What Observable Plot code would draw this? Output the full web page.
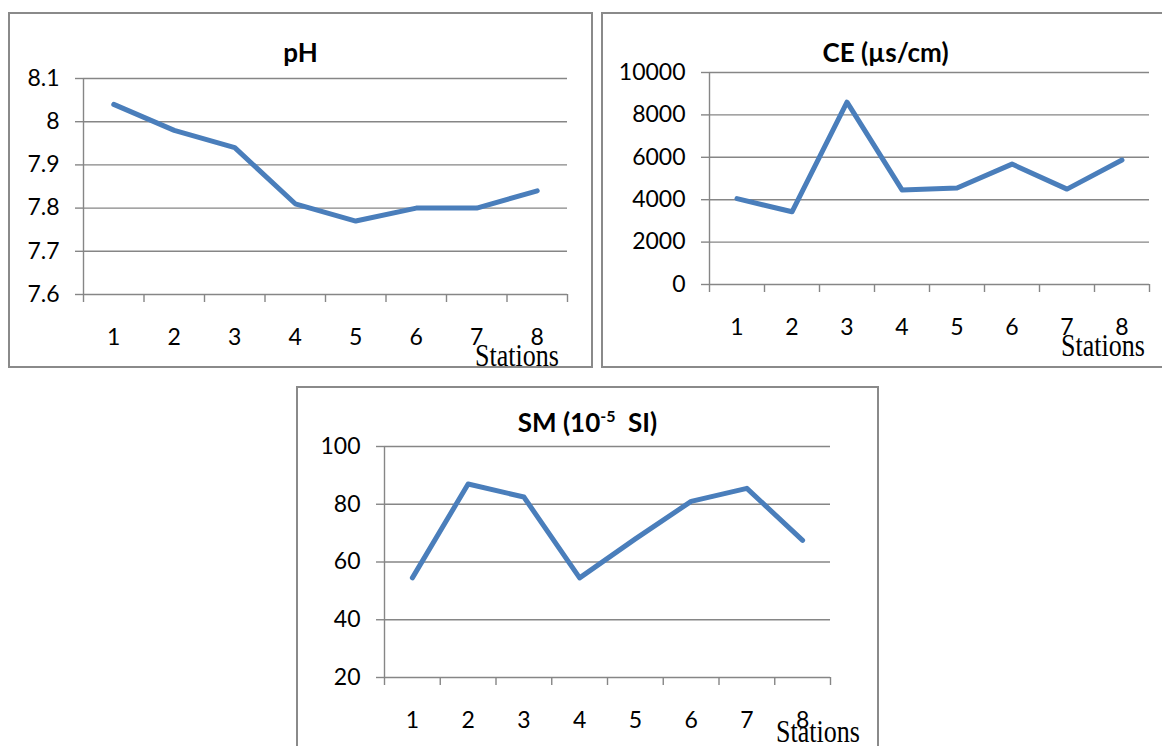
<!DOCTYPE html>
<html>
<head>
<meta charset="utf-8">
<script src="https://cdn.jsdelivr.net/npm/d3@7"></script>
<script src="https://cdn.jsdelivr.net/npm/@observablehq/plot@0.6"></script>
<style>
  html, body { margin: 0; padding: 0; background: #fff; }
  #wrap { position: relative; width: 1162px; height: 746px; overflow: hidden; background: #fff; }
  .box { position: absolute; box-sizing: border-box; border: 2px solid #8a8a8a; }
  .plot { position: absolute; }
  .title { position: absolute; font-family: Lato, sans-serif; font-weight: bold; font-size: 26px; line-height: 1; white-space: nowrap; transform: translate(-50%, -50%); color: #000; }
  .title sup { font-size: 16px; vertical-align: 10px; line-height: 0; }
  .stations { position: absolute; font-family: "Liberation Serif", "Times New Roman", serif; font-size: 26px; line-height: 1; white-space: nowrap; transform: translate(-50%, -50%) scaleY(1.2); color: #000; }
</style>
</head>
<body>
<div id="wrap"></div>
<script>
// ---- data ----
const stations = [1, 2, 3, 4, 5, 6, 7, 8];
const stationBounds = [0.5, 1.5, 2.5, 3.5, 4.5, 5.5, 6.5, 7.5, 8.5];
const pHValues = [8.04, 7.98, 7.94, 7.81, 7.77, 7.80, 7.80, 7.84];
const ceValues = [4050, 3430, 8600, 4460, 4550, 5680, 4500, 5870];
const smValues = [54.5, 87, 82.5, 54.5, 68, 81, 85.5, 67.5];
const pHTicks = [7.6, 7.7, 7.8, 7.9, 8, 8.1];
const ceTicks = [0, 2000, 4000, 6000, 8000, 10000];
const smTicks = [20, 40, 60, 80, 100];
const xLabel = "Stations";

const GRAY = "#868686";
const BLUE = "#4a7ebb";
const wrap = document.getElementById("wrap");

function panel({left, top, width, height, mL, mR, mT, mB, values, yDomain, yTicks, title, titleHTML, titleY, stX, stY}) {
  const box = document.createElement("div");
  box.className = "box";
  Object.assign(box.style, {left: left + "px", top: top + "px", width: width + "px", height: height + "px"});
  wrap.appendChild(box);

  const rows = stations.map((s, i) => ({station: s, value: values[i]}));
  const chart = Plot.plot({
    width, height,
    marginLeft: mL, marginRight: mR, marginTop: mT, marginBottom: mB,
    style: {fontFamily: "Lato, sans-serif", fontSize: "23px", color: "#000", background: "transparent", overflow: "visible"},
    x: {domain: [0.5, 8.5], axis: null, label: null},
    y: {domain: yDomain, axis: null, label: null},
    marks: [
      Plot.gridY(yTicks, {stroke: GRAY, strokeOpacity: 1, strokeWidth: 1.4}),
      Plot.ruleX([0.5], {stroke: GRAY, strokeWidth: 1.4}),
      Plot.axisY(yTicks, {label: null, tickSize: 8, tickPadding: 16, stroke: GRAY, strokeWidth: 1.4, fill: "#000", fontSize: 23, tickFormat: d => String(d)}),
      Plot.axisX(stationBounds, {label: null, tickSize: 8, stroke: GRAY, strokeWidth: 1.4, tickFormat: () => ""}),
      Plot.axisX(stations, {label: null, tickSize: 0, tickPadding: 34, fill: "#000", fontSize: 23, tickFormat: d => String(d)}),
      Plot.line(rows, {x: "station", y: "value", stroke: BLUE, strokeWidth: 5, strokeLinejoin: "round", strokeLinecap: "round"})
    ]
  });
  chart.classList.add("plot");
  chart.style.left = left + "px";
  chart.style.top = top + "px";
  wrap.appendChild(chart);

  const t = document.createElement("div");
  t.className = "title";
  if (titleHTML) t.innerHTML = titleHTML; else t.textContent = title;
  t.style.left = (left + width / 2) + "px";
  t.style.top = titleY + "px";
  wrap.appendChild(t);

  const s = document.createElement("div");
  s.className = "stations";
  s.textContent = xLabel;
  s.style.left = stX + "px";
  s.style.top = stY + "px";
  wrap.appendChild(s);
}

panel({left: 8, top: 12, width: 585, height: 356, mL: 75, mR: 26, mT: 66, mB: 74,
  values: pHValues, yDomain: [7.6, 8.1], yTicks: pHTicks, title: "pH", titleY: 52, stX: 517, stY: 356});
panel({left: 601, top: 12, width: 569, height: 356, mL: 108, mR: 21, mT: 60, mB: 84,
  values: ceValues, yDomain: [0, 10000], yTicks: ceTicks, title: "CE (µs/cm)", titleY: 52, stX: 1103, stY: 346});
panel({left: 296, top: 386, width: 583, height: 375, mL: 88, mR: 49, mT: 60, mB: 84,
  values: smValues, yDomain: [20, 100], yTicks: smTicks, titleHTML: "SM (10<sup>-5</sup>&nbsp; SI)", titleY: 422, stX: 818, stY: 732});
</script>
</body>
</html>
